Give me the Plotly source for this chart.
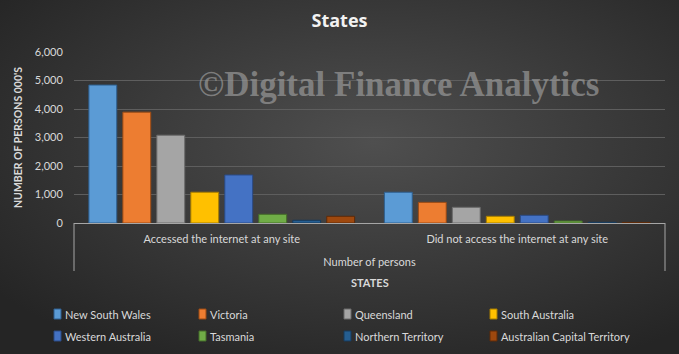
import base64
import plotly.graph_objects as go

categories = ["Accessed the internet at any site", "Did not access the internet at any site"]
states = ["New South Wales", "Victoria", "Queensland", "South Australia",
          "Western Australia", "Tasmania", "Northern Territory", "Australian Capital Territory"]
nsw = [4840, 1080]
vic = [3890, 725]
qld = [3080, 550]
sa = [1080, 235]
wa = [1685, 270]
tas = [305, 70]
nt = [95, 25]
act = [235, 20]
values = [nsw, vic, qld, sa, wa, tas, nt, act]
colors = ["#5b9bd5", "#ed7d31", "#a5a5a5", "#ffc000", "#4472c4", "#70ad47", "#255e91", "#9e480e"]
edges = ["#2e5f8f", "#9a4a14", "#6b6b6b", "#a67c00", "#2a4a85", "#456d2a", "#163a5c", "#5e2a08"]
ytickvals = [0, 1000, 2000, 3000, 4000, 5000, 6000]
yticktext = ["0", "1,000", "2,000", "3,000", "4,000", "5,000", "6,000"]

W, H = 679, 354
ML, MR, MT, MB = 74, 14, 52, 131
PW, PH = W - ML - MR, H - MT - MB


def px_x(x):
    return (x - ML) / PW


def px_y(y):
    return 1 - (y - MT) / PH


fig = go.Figure()
for name, vals, c, e in zip(states, values, colors, edges):
    fig.add_trace(go.Bar(name=name, x=categories, y=vals, showlegend=False,
                         marker=dict(color=c, line=dict(color=e, width=1))))

svg = f'''<svg xmlns="http://www.w3.org/2000/svg" width="{W}" height="{H}">
<defs><radialGradient id="g" cx="55%" cy="40%" r="70%">
<stop offset="0%" stop-color="#4f4f4f"/><stop offset="100%" stop-color="#252525"/>
</radialGradient></defs><rect width="{W}" height="{H}" fill="url(#g)"/></svg>'''
src = "data:image/svg+xml;base64," + base64.b64encode(svg.encode()).decode()

fig.add_layout_image(dict(source=src, xref="paper", yref="paper",
                          x=-ML / PW, y=1 + MT / PH, sizex=W / PW, sizey=H / PH,
                          xanchor="left", yanchor="top", sizing="stretch", layer="below"))

txt = "#d9d9d9"
annotations = [
    dict(text="<b>STATES</b>", xref="paper", yref="paper", x=0.5,
         y=px_y(282), xanchor="center", yanchor="middle", showarrow=False,
         font=dict(size=11, color=txt)),
    dict(text="<b>©Digital Finance Analytics</b>", xref="paper", yref="paper",
         x=px_x(399), y=px_y(84), xanchor="center", yanchor="middle",
         showarrow=False, font=dict(size=35, color="rgba(150,150,150,0.72)",
                                    family="Liberation Serif, serif")),
]
shapes = [
    dict(type="line", xref="paper", yref="paper", x0=0, x1=0, y0=0, y1=px_y(271),
         line=dict(color="#a6a6a6", width=1)),
    dict(type="line", xref="paper", yref="paper", x0=1, x1=1, y0=0, y1=px_y(271),
         line=dict(color="#a6a6a6", width=1)),
]

# legend drawn as swatches + labels (2 rows x 4 columns)
col_x = [54, 199, 344, 490]
row_y = [314, 336]
for i, (name, c, e) in enumerate(zip(states, colors, edges)):
    cx = col_x[i % 4]
    cy = row_y[i // 4]
    shapes.append(dict(type="rect", xref="paper", yref="paper",
                       x0=px_x(cx), x1=px_x(cx + 7), y0=px_y(cy + 5), y1=px_y(cy - 5),
                       fillcolor=c, line=dict(color=e, width=1)))
    annotations.append(dict(text=name, xref="paper", yref="paper", x=px_x(cx + 9),
                            y=px_y(cy), xanchor="left", yanchor="middle", showarrow=False,
                            font=dict(size=11, color=txt)))

fig.update_layout(
    width=W, height=H,
    margin=dict(l=ML, r=MR, t=MT, b=MB, autoexpand=False),
    paper_bgcolor="#333333", plot_bgcolor="rgba(0,0,0,0)",
    barmode="group", bargap=0.08, bargroupgap=0.18,
    font=dict(family="Lato, sans-serif", size=11, color=txt),
    title=dict(text="<b>States</b>", x=0.5, xanchor="center", y=1 - 21 / H, yanchor="middle",
               font=dict(size=18, color="#f2f2f2", family="Open Sans, sans-serif")),
    showlegend=False,
    xaxis=dict(showgrid=False, showline=True, linecolor="#a6a6a6", linewidth=1,
               ticks="outside", ticklen=6, tickcolor="rgba(0,0,0,0)",
               tickfont=dict(size=11, color=txt),
               title=dict(text="Number of persons", font=dict(size=11, color=txt), standoff=14)),
    yaxis=dict(range=[0, 6000], tickvals=ytickvals, ticktext=yticktext,
               showgrid=True, gridcolor="#5e5e5e", gridwidth=1, zeroline=False,
               ticks="outside", ticklen=8, tickcolor="rgba(0,0,0,0)",
               tickfont=dict(size=11, color=txt),
               title=dict(text="<b>NUMBER OF PERSONS 000'S</b>", font=dict(size=10.5, color=txt),
                          standoff=10)),
    annotations=annotations,
    shapes=shapes,
)

fig.write_html("out.html")
